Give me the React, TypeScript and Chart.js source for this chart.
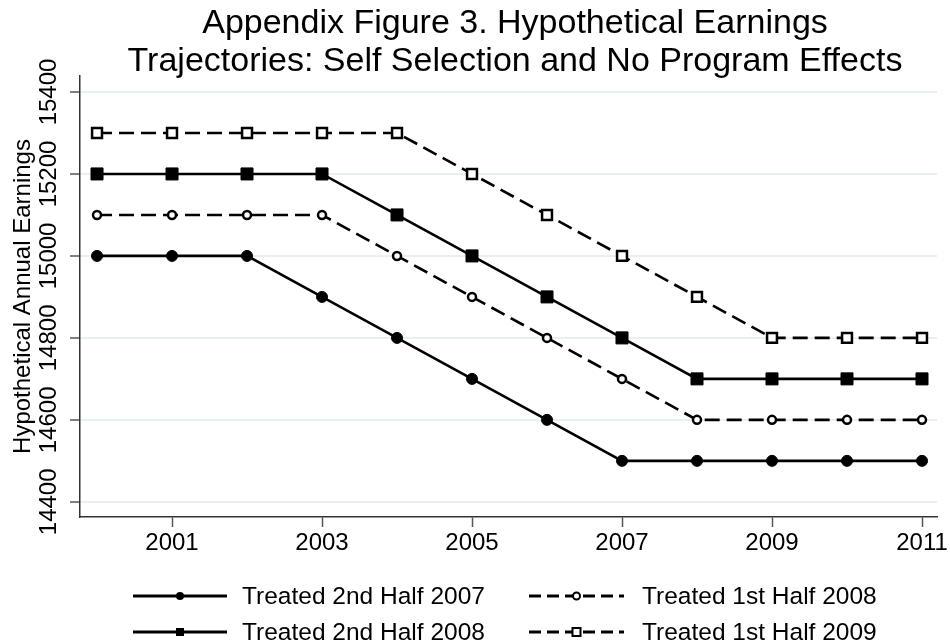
import { useEffect, useRef } from 'react';
import { Chart, registerables } from 'chart.js';

Chart.register(...registerables);

const YEARS = [2000, 2001, 2002, 2003, 2004, 2005, 2006, 2007, 2008, 2009, 2010, 2011];
const TREATED_2H_2007 = [15000, 15000, 15000, 14900, 14800, 14700, 14600, 14500, 14500, 14500, 14500, 14500];
const TREATED_1H_2008 = [15100, 15100, 15100, 15100, 15000, 14900, 14800, 14700, 14600, 14600, 14600, 14600];
const TREATED_2H_2008 = [15200, 15200, 15200, 15200, 15100, 15000, 14900, 14800, 14700, 14700, 14700, 14700];
const TREATED_1H_2009 = [15300, 15300, 15300, 15300, 15300, 15200, 15100, 15000, 14900, 14800, 14800, 14800];
const SERIES_NAMES = ['Treated 2nd Half 2007', 'Treated 1st Half 2008', 'Treated 2nd Half 2008', 'Treated 1st Half 2009'];
const X_TICKS = [2001, 2003, 2005, 2007, 2009, 2011];
const Y_TICKS = [14400, 14600, 14800, 15000, 15200, 15400];
const TITLE_LINES = ['Appendix Figure 3. Hypothetical Earnings', 'Trajectories: Self Selection and No Program Effects'];
const Y_TITLE = 'Hypothetical Annual Earnings';

const FONT = '"Liberation Sans", Arial, Helvetica, sans-serif';
const INK = '#000000';
const DASH = [15, 7];

type Style = { dashed: boolean; shape: 'circle' | 'rect'; hollow: boolean; radius: number };
const STYLES: Style[] = [
  { dashed: false, shape: 'circle', hollow: false, radius: 5.5 },
  { dashed: true, shape: 'circle', hollow: true, radius: 4 },
  { dashed: false, shape: 'rect', hollow: false, radius: 8.5 },
  { dashed: true, shape: 'rect', hollow: true, radius: 7 },
];
const SERIES = [TREATED_2H_2007, TREATED_1H_2008, TREATED_2H_2008, TREATED_1H_2009];

const overlayPlugin = {
  id: 'overlay',
  afterDraw(chart: any) {
    const ctx = chart.ctx as CanvasRenderingContext2D;
    const area = chart.chartArea;
    const ys = chart.scales.y;
    ctx.save();
    // Title
    ctx.fillStyle = INK;
    ctx.font = `34px ${FONT}`;
    ctx.textAlign = 'center';
    ctx.textBaseline = 'alphabetic';
    const cx = (area.left + chart.width) / 2;
    ctx.fillText(TITLE_LINES[0], cx, 33);
    ctx.fillText(TITLE_LINES[1], cx, 71);

    // Y tick labels (rotated)
    ctx.font = `24px ${FONT}`;
    ys.ticks.forEach((t: any) => {
      const py = ys.getPixelForValue(t.value);
      ctx.save();
      ctx.translate(56, py);
      ctx.rotate(-Math.PI / 2);
      ctx.textAlign = 'center';
      ctx.fillText(String(t.value), 0, 0);
      ctx.restore();
    });

    // Y axis title
    ctx.save();
    ctx.translate(30, (area.top + area.bottom) / 2);
    ctx.rotate(-Math.PI / 2);
    ctx.textAlign = 'center';
    ctx.fillText(Y_TITLE, 0, 0);
    ctx.restore();

    // Legend
    const rows = [596, 632];
    const cols = [
      { x0: 133, x1: 227, tx: 242 },
      { x0: 529, x1: 624, tx: 642 },
    ];
    [0, 1, 2, 3].forEach((si, k) => {
      const r = Math.floor(k / 2);
      const c = k % 2;
      const y = rows[r];
      const col = cols[c];
      const st = STYLES[si];
      ctx.save();
      ctx.strokeStyle = INK;
      ctx.lineWidth = 2.8;
      ctx.setLineDash(st.dashed ? [12, 6] : []);
      ctx.beginPath();
      ctx.moveTo(col.x0, y);
      ctx.lineTo(col.x1, y);
      ctx.stroke();
      ctx.setLineDash([]);
      const mx = (col.x0 + col.x1) / 2;
      ctx.fillStyle = st.hollow ? '#ffffff' : INK;
      ctx.lineWidth = 2;
      ctx.beginPath();
      if (st.shape === 'circle') {
        ctx.arc(mx, y, st.hollow ? 3.5 : 4, 0, Math.PI * 2);
      } else {
        const s = 4;
        ctx.rect(mx - s, y - s, 2 * s, 2 * s);
      }
      ctx.fill();
      if (st.hollow) ctx.stroke();
      ctx.restore();
      ctx.fillStyle = INK;
      ctx.font = `24.5px ${FONT}`;
      ctx.textAlign = 'left';
      ctx.textBaseline = 'alphabetic';
      ctx.fillText(SERIES_NAMES[si], col.tx, y + 8);
    });
    ctx.restore();
  },
};

export default function App() {
  const ref = useRef<HTMLCanvasElement>(null);
  useEffect(() => {
    const canvas = ref.current;
    if (!canvas) return;
    const chart = new Chart(canvas, {
      type: 'line',
      data: {
        datasets: SERIES.map((arr, i) => {
          const st = STYLES[i];
          return {
            label: SERIES_NAMES[i],
            data: YEARS.map((x, j) => ({ x, y: arr[j] })),
            borderColor: INK,
            borderWidth: 2.6,
            borderDash: st.dashed ? DASH : [],
            pointStyle: st.shape,
            pointRadius: st.radius,
            pointBackgroundColor: st.hollow ? '#ffffff' : INK,
            pointBorderColor: INK,
            pointBorderWidth: st.hollow ? 2.5 : 1,
            tension: 0,
            fill: false,
          };
        }),
      },
      options: {
        animation: false,
        responsive: false,
        events: [],
        layout: { padding: { left: 0, top: 76, right: 13, bottom: 82 } },
        plugins: { legend: { display: false }, title: { display: false }, tooltip: { enabled: false } },
        scales: {
          x: {
            type: 'linear',
            min: 1999.773,
            max: 2011.2,
            afterBuildTicks: (s: any) => { s.ticks = X_TICKS.map((v) => ({ value: v })); },
            afterFit: (s: any) => { s.height = 45; s.paddingLeft = 0; s.paddingRight = 0; },
            grid: { drawOnChartArea: false, drawTicks: true, tickLength: 10, tickColor: '#555', tickWidth: 1.5 },
            border: { display: true, color: '#333', width: 1.5 },
            ticks: {
              color: INK,
              font: { family: FONT, size: 24 },
              padding: 2,
              maxRotation: 0,
              minRotation: 0,
              autoSkip: false,
              callback: (v: any) => String(v),
            },
          },
          y: {
            type: 'linear',
            min: 14363,
            max: 15439,
            afterBuildTicks: (s: any) => { s.ticks = Y_TICKS.map((v) => ({ value: v })); },
            afterFit: (s: any) => { s.width = 80; s.paddingTop = 0; s.paddingBottom = 0; },
            grid: { color: '#e8f0f2', lineWidth: 2, drawTicks: true, tickLength: 10, tickColor: '#555', tickWidth: 1.5 },
            border: { display: true, color: '#333', width: 1.5 },
            ticks: { display: false },
          },
        },
      },
      plugins: [overlayPlugin],
    } as any);
    return () => chart.destroy();
  }, []);
  return (
    <div style={{ position: 'absolute', left: 0, top: 0, width: 950, height: 644, background: '#fff' }}>
      <canvas ref={ref} width={950} height={644} style={{ display: 'block' }} />
    </div>
  );
}
